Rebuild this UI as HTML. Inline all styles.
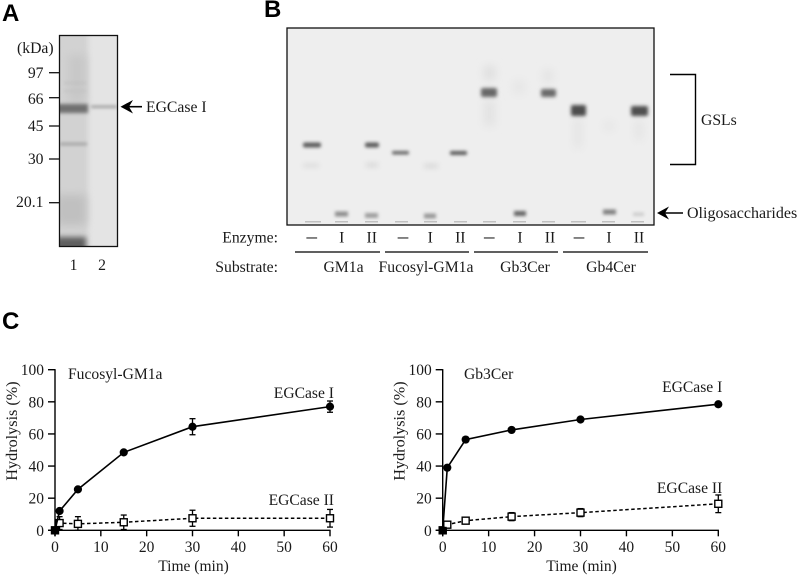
<!DOCTYPE html>
<html>
<head>
<meta charset="utf-8">
<title>EGCase figure</title>
<style>
html,body{margin:0;padding:0;background:#fff;}
svg{display:block;}
text{font-family:"Liberation Serif",serif;fill:#1a1a1a;}
.panel{font-family:"Liberation Sans",sans-serif;font-weight:bold;font-size:24px;fill:#000;}
.t14{font-size:15.7px;}
.t13{font-size:15.6px;}
.tick{font-size:15.5px;}
.ytitle{font-size:16.2px;}
.dash{font-size:21px;}
</style>
</head>
<body>
<svg id="fig" width="797" height="576" viewBox="0 0 797 576" xmlns="http://www.w3.org/2000/svg">
<defs>
<filter id="b1" x="-50%" y="-150%" width="200%" height="400%"><feGaussianBlur stdDeviation="1.5"/></filter>
<filter id="b15" x="-50%" y="-200%" width="200%" height="500%"><feGaussianBlur stdDeviation="1.9"/></filter>
<filter id="b2" x="-50%" y="-200%" width="200%" height="500%"><feGaussianBlur stdDeviation="2.6"/></filter>
<filter id="b3" x="-100%" y="-100%" width="300%" height="300%"><feGaussianBlur stdDeviation="4.5"/></filter>
<clipPath id="clipA"><rect x="60" y="36" width="57" height="210"/></clipPath>
<clipPath id="clipB"><rect x="288" y="29" width="365" height="195"/></clipPath>
</defs>

<!-- Panel A -->
<text class="panel" x="2" y="21">A</text>
<g>
<rect x="59.500" y="35.500" width="58" height="211" fill="#e4e4e4"/>
<g clip-path="url(#clipA)">
<rect x="50" y="30" width="38" height="225" fill="#d2d2d2" filter="url(#b2)"/>
<rect x="68" y="55" width="18" height="48" fill="#c8c8c8" filter="url(#b3)"/>
<rect x="55" y="104" width="33" height="9" fill="#707070" filter="url(#b15)"/>
<rect x="91" y="105.500" width="26" height="2.500" fill="#9c9c9c" filter="url(#b1)"/>
<rect x="60" y="142.500" width="27" height="3" fill="#a6a6a6" filter="url(#b1)"/>
<rect x="64" y="82" width="22" height="2" fill="#c0c0c0" filter="url(#b1)"/>
<rect x="64" y="90" width="22" height="2" fill="#c2c2c2" filter="url(#b1)"/>
<rect x="56" y="195" width="30" height="30" fill="#c0c0c0" filter="url(#b3)"/>
<rect x="56" y="237" width="30" height="14" fill="#5e5e5e" filter="url(#b2)"/>
</g>
<rect x="59.500" y="35.500" width="58" height="211" fill="none" stroke="#111" stroke-width="1.300"/>
</g>
<text class="t14" x="17" y="53">(kDa)</text>
<g stroke="#111" stroke-width="1.300">
<line x1="49" y1="72.700" x2="59" y2="72.700"/>
<line x1="49" y1="97.700" x2="59" y2="97.700"/>
<line x1="49" y1="126" x2="59" y2="126"/>
<line x1="49" y1="159" x2="59" y2="159"/>
<line x1="49" y1="202.700" x2="59" y2="202.700"/>
</g>
<g text-anchor="end" class="t14">
<text x="43.500" y="78">97</text>
<text x="43.500" y="104">66</text>
<text x="43.500" y="131">45</text>
<text x="43.500" y="164">30</text>
<text x="43.500" y="207">20.1</text>
</g>
<text class="t14" x="73.500" y="270" text-anchor="middle">1</text>
<text class="t14" x="102" y="270" text-anchor="middle">2</text>
<g>
<line x1="126" y1="106.700" x2="142" y2="106.700" stroke="#000" stroke-width="1.600"/>
<polygon points="120.500,106.700 133,100 129,106.700 133,113.500" fill="#000"/>
</g>
<text class="t14" x="146" y="112">EGCase I</text>

<!-- Panel B -->
<text class="panel" x="264" y="17">B</text>
<g>
<rect x="287" y="28" width="367" height="197" fill="#eeeeee"/>
<g clip-path="url(#clipB)">
<g fill="#dedede">
<rect x="484" y="66" width="11" height="14" filter="url(#b3)"/>
<rect x="484" y="100" width="11" height="26" fill="#e2e2e2" filter="url(#b3)"/>
<rect x="543" y="70" width="10" height="12" fill="#e2e2e2" filter="url(#b3)"/>
<rect x="574" y="118" width="8" height="30" fill="#e4e4e4" filter="url(#b3)"/>
<rect x="635" y="120" width="8" height="20" fill="#e4e4e4" filter="url(#b3)"/>
<rect x="604" y="122" width="10" height="8" fill="#e4e4e4" filter="url(#b3)"/>
<rect x="513" y="80" width="12" height="14" fill="#e6e6e6" filter="url(#b3)"/>
</g>
<g>
<rect x="303" y="142.500" width="18" height="5" rx="2" fill="#5e5e5e" filter="url(#b1)"/>
<rect x="365" y="142.500" width="14" height="5" rx="2" fill="#5e5e5e" filter="url(#b1)"/>
<rect x="392" y="151" width="17" height="3.500" rx="1.500" fill="#666" filter="url(#b1)"/>
<rect x="450" y="151" width="17" height="4" rx="1.500" fill="#5c5c5c" filter="url(#b1)"/>
<rect x="481" y="88" width="16" height="9" rx="2" fill="#686868" filter="url(#b15)"/>
<rect x="541" y="89" width="15" height="8" rx="2" fill="#6a6a6a" filter="url(#b15)"/>
<rect x="571" y="105" width="15" height="11" rx="2" fill="#4e4e4e" filter="url(#b15)"/>
<rect x="631" y="106" width="17" height="10" rx="2" fill="#505050" filter="url(#b15)"/>
</g>
<g fill="#d6d6d6" filter="url(#b2)">
<rect x="303" y="164" width="16" height="3"/>
<rect x="366" y="163" width="12" height="4"/>
<rect x="424" y="164" width="14" height="4"/>
</g>
<g>
<rect x="335" y="211.500" width="13" height="5" fill="#8e8e8e" filter="url(#b1)"/>
<rect x="365" y="213" width="13" height="5" fill="#9e9e9e" filter="url(#b1)"/>
<rect x="424" y="213.500" width="12" height="5" fill="#989898" filter="url(#b1)"/>
<rect x="514" y="211" width="12" height="5" fill="#666" filter="url(#b1)"/>
<rect x="603" y="209.500" width="13" height="5" fill="#808080" filter="url(#b1)"/>
<rect x="633" y="212.500" width="11" height="3.500" fill="#cccccc" filter="url(#b1)"/>
</g>
<g fill="#c0c0c0">
<rect x="305" y="221" width="16" height="1.500"/>
<rect x="335" y="221" width="13" height="1.500"/>
<rect x="365" y="221" width="13" height="1.500"/>
<rect x="395" y="221" width="13" height="1.500"/>
<rect x="424" y="221" width="13" height="1.500"/>
<rect x="454" y="221" width="13" height="1.500"/>
<rect x="483" y="221" width="13" height="1.500"/>
<rect x="513" y="221" width="13" height="1.500"/>
<rect x="542" y="221" width="13" height="1.500"/>
<rect x="571" y="221" width="15" height="1.500"/>
<rect x="602" y="221" width="13" height="1.500"/>
<rect x="631" y="221" width="13" height="1.500"/>
</g>
</g>
<rect x="287" y="28" width="367" height="197" fill="none" stroke="#111" stroke-width="1.300"/>
</g>
<g>
<polyline points="670,74.500 695.500,74.500 695.500,164.500 670,164.500" fill="none" stroke="#000" stroke-width="1.400"/>
</g>
<text class="t14" x="701" y="125">GSLs</text>
<g>
<line x1="662" y1="213" x2="683" y2="213" stroke="#000" stroke-width="1.600"/>
<polygon points="657,213 669,206.500 665,213 669,219.500" fill="#000"/>
</g>
<text class="t14" x="687" y="218" style="font-size:16px">Oligosaccharides</text>

<text class="t14" x="278" y="242.500" text-anchor="end">Enzyme:</text>
<text class="t14" x="278" y="272" text-anchor="end">Substrate:</text>
<g class="t14" text-anchor="middle">
<text class="dash" x="311.700" y="243">–</text><text x="341.700" y="242.500">I</text><text x="371.700" y="242.500">II</text>
<text class="dash" x="403" y="243">–</text><text x="430.300" y="242.500">I</text><text x="460.300" y="242.500">II</text>
<text class="dash" x="489.300" y="243">–</text><text x="520" y="242.500">I</text><text x="550" y="242.500">II</text>
<text class="dash" x="579" y="243">–</text><text x="609" y="242.500">I</text><text x="639" y="242.500">II</text>
</g>
<g stroke="#000" stroke-width="1.200">
<line x1="295" y1="252" x2="380" y2="252"/>
<line x1="385" y1="252" x2="469" y2="252"/>
<line x1="474" y1="252" x2="558" y2="252"/>
<line x1="563" y1="252" x2="648" y2="252"/>
</g>
<g class="t14" text-anchor="middle">
<text x="343.500" y="272">GM1a</text>
<text x="426" y="272">Fucosyl-GM1a</text>
<text x="525" y="272">Gb3Cer</text>
<text x="611" y="272">Gb4Cer</text>
</g>

<!-- Panel C -->
<text class="panel" x="2" y="329">C</text>
<g id="charts"></g>
</svg>

<script>
var times = [0, 1, 5, 15, 30, 60];
var xTicks = [0, 10, 20, 30, 40, 50, 60];
var yTicks = [0, 20, 40, 60, 80, 100];

var fucosylEnzyme1 = [0, 12, 25.5, 48.5, 64.5, 77];
var fucosylEnzyme1Err = [0, 0, 0, 0, 5, 3.5];
var fucosylEnzyme2 = [0, 4.5, 4, 5, 7.5, 7.5];
var fucosylEnzyme2Err = [0, 4, 4.5, 4.5, 5, 5.5];

var gb3Enzyme1 = [0, 39, 56.5, 62.5, 69, 78.5];
var gb3Enzyme1Err = [0, 0, 0, 0, 0, 0];
var gb3Enzyme2 = [0, 3.5, 6, 8.5, 11, 16.5];
var gb3Enzyme2Err = [0, 0, 0, 2.5, 2.5, 5.5];

var NS = 'http://www.w3.org/2000/svg';
var root = document.getElementById('charts');

function mk(parent, tag, attrs, txt) {
  var e = document.createElementNS(NS, tag);
  for (var k in attrs) { e.setAttribute(k, attrs[k]); }
  if (txt !== undefined) { e.textContent = txt; }
  parent.appendChild(e);
  return e;
}

function drawChart(cfg) {
  var g = mk(root, 'g', {});
  
  
  function X(v) { return cfg.x0 + v * (cfg.x1 - cfg.x0) / 60; }
  function Y(v) { return 530.3 - v * (530.3 - 369.7) / 100; }

  var axes = mk(g, 'g', {stroke: '#000', 'stroke-width': 1.4, fill: 'none'});
  
  
  mk(axes, 'line', {x1: cfg.x0, y1: Y(100) - 0.6, x2: cfg.x0, y2: Y(0) + 6});
  mk(axes, 'line', {x1: cfg.x0 - 7, y1: Y(0), x2: cfg.x1 + 0.6, y2: Y(0)});

  yTicks.forEach(function (t) {
    mk(axes, 'line', {x1: cfg.x0 - 7, y1: Y(t), x2: cfg.x0, y2: Y(t)});
    var label = mk(g, 'text', {'class': 'tick', x: cfg.x0 - 11, y: Y(t) + 5.5, 'text-anchor': 'end'}, t);
    
    
  });
  xTicks.forEach(function (t) {
    mk(axes, 'line', {x1: X(t), y1: Y(0), x2: X(t), y2: Y(0) + 6});
    var label = mk(g, 'text', {'class': 'tick', x: X(t), y: 552, 'text-anchor': 'middle'}, t);
    
    
  });

  var xTitle = mk(g, 'text', {'class': 'tick', x: (cfg.x0 + cfg.x1) / 2 + 1, y: 571, 'text-anchor': 'middle'}, 'Time (min)');
  
  
  var ty = 431;
  var tx = cfg.x0 - 38;
  var yTitle = mk(g, 'text', {'class': 'ytitle', x: tx, y: ty, 'text-anchor': 'middle', transform: 'rotate(-90 ' + tx + ' ' + ty + ')'}, 'Hydrolysis (%)');
  
  

  var title = mk(g, 'text', {'class': 't13', x: cfg.titleX, y: 379}, cfg.title);
  
  
  var l1 = mk(g, 'text', {'class': 't13', x: cfg.x1 + 4, y: cfg.l1y, 'text-anchor': 'end'}, 'EGCase I');
  
  
  var l2 = mk(g, 'text', {'class': 't13', x: cfg.x1 + 4, y: cfg.l2y, 'text-anchor': 'end'}, 'EGCase II');
  
  

  function pts(vals) {
    return times.map(function (t, i) { return X(t) + ',' + Y(vals[i]); }).join(' ');
  }

  var s2 = mk(g, 'g', {});
  
  
  mk(s2, 'polyline', {points: pts(cfg.e2), fill: 'none', stroke: '#000', 'stroke-width': 1.5, 'stroke-dasharray': '3.5 2.5'});
  times.forEach(function (t, i) {
    var x = X(t), hi = Y(cfg.e2[i] + cfg.e2Err[i]), lo = Y(Math.max(cfg.e2[i] - cfg.e2Err[i], 0));
    if (cfg.e2Err[i] > 0) {
      mk(s2, 'line', {x1: x, y1: hi, x2: x, y2: lo, stroke: '#000', 'stroke-width': 1.3});
      mk(s2, 'line', {x1: x - 3, y1: hi, x2: x + 3, y2: hi, stroke: '#000', 'stroke-width': 1.3});
      mk(s2, 'line', {x1: x - 3, y1: lo, x2: x + 3, y2: lo, stroke: '#000', 'stroke-width': 1.3});
    }
    var m = mk(s2, 'rect', {x: x - 3.5, y: Y(cfg.e2[i]) - 3.5, width: 7, height: 7, fill: '#fff', stroke: '#000', 'stroke-width': 1.4});
    
    
  });

  var s1 = mk(g, 'g', {});
  
  
  mk(s1, 'polyline', {points: pts(cfg.e1), fill: 'none', stroke: '#000', 'stroke-width': 1.6});
  times.forEach(function (t, i) {
    var x = X(t), hi = Y(cfg.e1[i] + cfg.e1Err[i]), lo = Y(cfg.e1[i] - cfg.e1Err[i]);
    if (cfg.e1Err[i] > 0) {
      mk(s1, 'line', {x1: x, y1: hi, x2: x, y2: lo, stroke: '#000', 'stroke-width': 1.3});
      mk(s1, 'line', {x1: x - 3, y1: hi, x2: x + 3, y2: hi, stroke: '#000', 'stroke-width': 1.3});
      mk(s1, 'line', {x1: x - 3, y1: lo, x2: x + 3, y2: lo, stroke: '#000', 'stroke-width': 1.3});
    }
    var c = mk(s1, 'circle', {cx: x, cy: Y(cfg.e1[i]), r: 4.1, fill: '#000'});
    
    
  });
  var origin = mk(g, 'rect', {x: X(0) - 4, y: Y(0) - 3.5, width: 8, height: 7, fill: '#000'});
  
  
}

drawChart({name: 'chart-fucosyl-gm1a', title: 'Fucosyl-GM1a', x0: 55, x1: 330, titleX: 68, l1y: 398, l2y: 505,
  e1: fucosylEnzyme1, e1Err: fucosylEnzyme1Err, e2: fucosylEnzyme2, e2Err: fucosylEnzyme2Err});
drawChart({name: 'chart-gb3cer', title: 'Gb3Cer', x0: 442.7, x1: 718.3, titleX: 464, l1y: 392, l2y: 493,
  e1: gb3Enzyme1, e1Err: gb3Enzyme1Err, e2: gb3Enzyme2, e2Err: gb3Enzyme2Err});
</script>
</body>
</html>
